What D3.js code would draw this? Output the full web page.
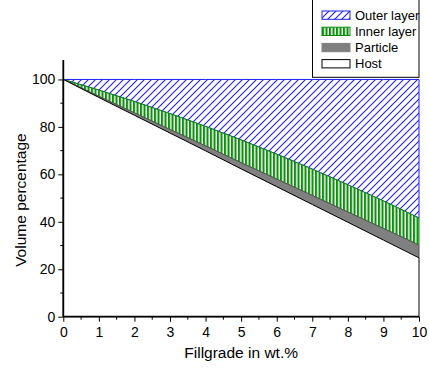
<!DOCTYPE html>
<html><head><meta charset="utf-8">
<script src="https://cdn.jsdelivr.net/npm/d3@7"></script>
<style>body{margin:0;background:#fff}svg{display:block;font-family:Arial,"Liberation Sans",sans-serif}</style>
</head><body>
<svg id="c" width="429" height="369"></svg>
<script>
const fillgrade = [0,1,2,3,4,5,6,7,8,9,10];
const outerTop  = [100,100,100,100,100,100,100,100,100,100,100];
const innerTop  = [100,95.5,90.7,85.6,80.2,74.5,68.5,62.2,55.6,48.8,41.6];
const particleTop=[100,92.9,85.9,78.9,72.0,64.9,58.0,51.1,44.1,37.2,30.2];
const hostTop   = [100,92.4,84.9,77.4,69.9,62.3,54.8,47.3,39.8,32.3,24.8];
const baseline  = [0,0,0,0,0,0,0,0,0,0,0];
const xTicks = [0,1,2,3,4,5,6,7,8,9,10];
const yTicks = [0,20,40,60,80,100];
const legendLabels = ["Outer layer","Inner layer","Particle","Host"];

const svg = d3.select("#c");
const x = d3.scaleLinear().domain([0,10]).range([63.3,419]);
const y = d3.scaleLinear().domain([0,108.2]).range([316.7,60]);

const defs = svg.append("defs");
const ph = defs.append("pattern").attr("id","hatch").attr("patternUnits","userSpaceOnUse")
  .attr("width",7).attr("height",7);
ph.append("rect").attr("width",7).attr("height",7).attr("fill","#fff");
ph.append("path").attr("d","M-1,1 L1,-1 M0,7 L7,0 M6,8 L8,6").attr("stroke","#1f1fff").attr("stroke-width",1.1);
const pv = defs.append("pattern").attr("id","vstripe").attr("patternUnits","userSpaceOnUse")
  .attr("width",3.5).attr("height",10);
pv.append("rect").attr("width",3.5).attr("height",10).attr("fill","#fff");
pv.append("rect").attr("width",2.1).attr("height",10).attr("fill","#0f8f0f");

const area = (top, bot) => d3.area().x((d,i)=>x(fillgrade[i])).y0((d,i)=>y(bot[i])).y1((d,i)=>y(top[i]))(fillgrade);
const layers = [
  {top:outerTop, bot:innerTop, fill:"url(#hatch)", stroke:"#2020ff"},
  {top:innerTop, bot:particleTop, fill:"url(#vstripe)", stroke:"#0a8a0a"},
  {top:particleTop, bot:hostTop, fill:"#808080", stroke:"#555"},
  {top:hostTop, bot:baseline, fill:"#fff", stroke:"#000"}
];
svg.append("g").selectAll("path").data(layers).join("path")
  .attr("d",d=>area(d.top,d.bot)).attr("fill",d=>d.fill).attr("stroke",d=>d.stroke).attr("stroke-width",1);

// axes
const xAxis = svg.append("g").attr("transform",`translate(0,${y(0)})`);
xAxis.call(d3.axisBottom(x).tickValues(xTicks).tickFormat(d3.format("d")).tickSize(5).tickPadding(5));
xAxis.append("g").selectAll("line").data(d3.range(0.5,10,1)).join("line")
  .attr("x1",d=>x(d)).attr("x2",d=>x(d)).attr("y1",0).attr("y2",3).attr("stroke","#000");
const yAxis = svg.append("g").attr("transform",`translate(${x(0)},0)`);
yAxis.call(d3.axisLeft(y).tickValues(yTicks).tickFormat(d3.format("d")).tickSize(5).tickPadding(3));
yAxis.append("g").selectAll("line").data([10,30,50,70,90]).join("line")
  .attr("y1",d=>y(d)).attr("y2",d=>y(d)).attr("x1",0).attr("x2",-3).attr("stroke","#000");
[xAxis,yAxis].forEach(a=>{
  a.select(".domain").attr("stroke","#000").attr("stroke-width",1.8);
  a.selectAll(".tick line").attr("stroke","#000").attr("stroke-width",1);
  a.selectAll("text").attr("font-size",14).attr("font-family","Arial,'Liberation Sans',sans-serif").attr("fill","#000");
});
xAxis.select(".domain").attr("d",`M${x(0)},0H${x(10)}`);
yAxis.select(".domain").attr("d",`M0,${y(0)}V${y(108.2)}`);

svg.append("text").attr("x",(x(0)+x(10))/2).attr("y",358).attr("text-anchor","middle")
  .attr("font-size",15.5).text("Fillgrade in wt.%");
svg.append("text").attr("transform",`translate(25.5,${(y(0)+y(100))/2+2}) rotate(-90)`).attr("text-anchor","middle")
  .attr("font-size",15.5).text("Volume percentage");

// legend
const lg = svg.append("g");
lg.append("rect").attr("x",312.5).attr("y",-1).attr("width",106.5).attr("height",78.3)
  .attr("fill","#fff").attr("stroke","#000");
const sw = [
  {fill:"url(#hatch)", stroke:"#2020ff"},
  {fill:"url(#vstripe)", stroke:"#0a8a0a"},
  {fill:"#808080", stroke:"#808080"},
  {fill:"#fff", stroke:"#000"}
];
const rows = lg.selectAll("g.r").data(legendLabels).join("g").attr("class","r")
  .attr("transform",(d,i)=>`translate(0,${11+i*16.2})`);
rows.append("rect").attr("x",322).attr("y",0).attr("width",28).attr("height",8.3)
  .attr("fill",(d,i)=>sw[i].fill).attr("stroke",(d,i)=>sw[i].stroke);
rows.append("text").attr("x",355).attr("y",8.8).attr("font-size",13).text(d=>d);
</script>
</body></html>
